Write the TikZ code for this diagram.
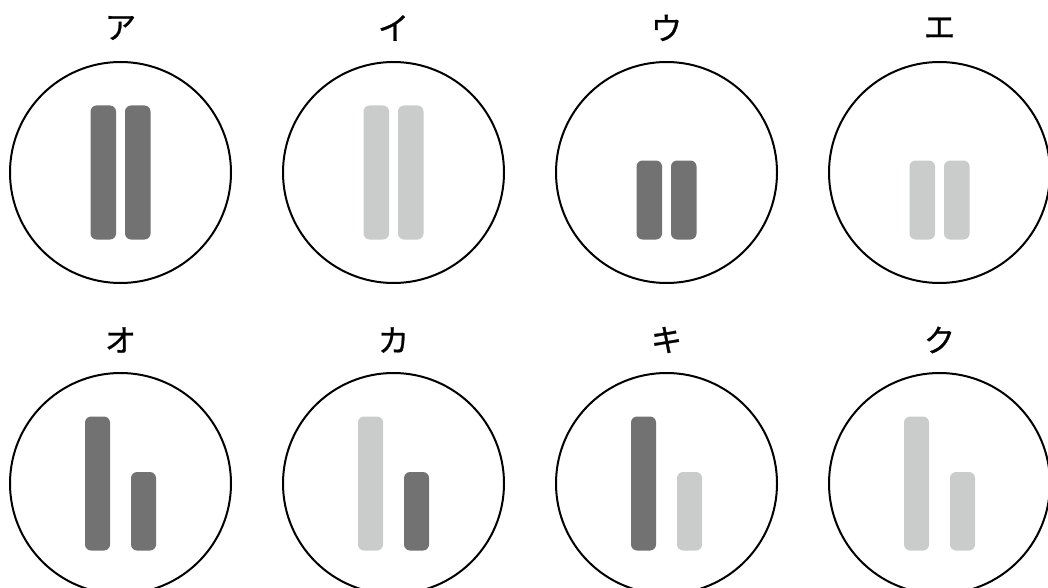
\documentclass[tikz,border=0pt]{standalone}
\usepackage{fontspec}
\newfontfamily\cjk[FakeBold=0.8]{Noto Sans CJK JP}
\definecolor{bardark}{HTML}{727272}
\definecolor{barlight}{HTML}{CACCCB}
\tikzset{
  cell/.style={circle, draw=black, line width=1.5pt, minimum size=165.75pt, inner sep=0pt},
  lab/.style={font=\cjk\fontsize{23.5}{23.5}\selectfont, inner sep=0pt, anchor=center},
  bar/.style={rounded corners=4.5pt}
}
% #1 center x, #2 center y, #3 left color, #4 left top offset, #5 right color, #6 right top offset, #7 inner gap half, #8 outer half
\newcommand{\twobars}[8]{%
  \fill[bar,#3] (#1-#8,#2+#4) rectangle (#1-#7,#2+67);
  \fill[bar,#5] (#1+#7,#2+#6) rectangle (#1+#8,#2+67);
}
\begin{document}
\begin{tikzpicture}[x=0.75pt,y=-0.75pt]
\useasboundingbox (0,0) rectangle (1048,588);
% row 1
\node[cell] (c1) at (120.5,172.5) {};
\node[cell] (c2) at (393.5,172.5) {};
\node[cell] (c3) at (666.5,172.5) {};
\node[cell] (c4) at (939.5,172.5) {};
\node[lab] (l1) at (120.5,28) {ア};
\node[lab] (l2) at (393.5,28) {イ};
\node[lab] (l3) at (666.5,28) {ウ};
\node[lab] (l4) at (939.5,28) {エ};
\twobars{120.5}{172.5}{bardark}{-67}{bardark}{-67}{4.5}{30}
\twobars{393.5}{172.5}{barlight}{-67}{barlight}{-67}{4.5}{30}
\twobars{666.5}{172.5}{bardark}{-12}{bardark}{-12}{4.5}{30}
\twobars{939.5}{172.5}{barlight}{-12}{barlight}{-12}{4.5}{30}
% row 2
\node[cell] (c5) at (120.5,483.5) {};
\node[cell] (c6) at (393.5,483.5) {};
\node[cell] (c7) at (666.5,483.5) {};
\node[cell] (c8) at (939.5,483.5) {};
\node[lab] (l5) at (120.5,340) {オ};
\node[lab] (l6) at (393.5,340) {カ};
\node[lab] (l7) at (666.5,340) {キ};
\node[lab] (l8) at (939.5,340) {ク};
\twobars{120.5}{483.5}{bardark}{-67}{bardark}{-11.5}{10.5}{35.5}
\twobars{393.5}{483.5}{barlight}{-67}{bardark}{-11.5}{10.5}{35.5}
\twobars{666.5}{483.5}{bardark}{-67}{barlight}{-11.5}{10.5}{35.5}
\twobars{939.5}{483.5}{barlight}{-67}{barlight}{-11.5}{10.5}{35.5}
\end{tikzpicture}
\end{document}
